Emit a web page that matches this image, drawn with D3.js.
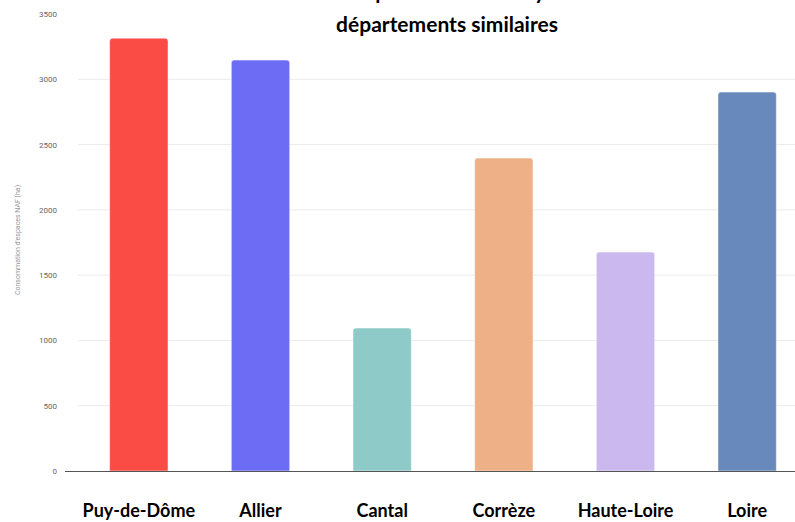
<!DOCTYPE html>
<html><head><meta charset="utf-8">
<script src="https://cdn.jsdelivr.net/npm/d3@7"></script>
<style>body{margin:0;background:#fff;overflow:hidden}svg{display:block}</style>
</head><body>
<svg id="c" width="795" height="522"></svg>
<script>
const categories = ["Puy-de-Dôme","Allier","Cantal","Corrèze","Haute-Loire","Loire"];
const values = [3315, 3147, 1095, 2397, 1677, 2902];
const colors = ["#FA4B44","#6C6CF4","#8ECBC8","#EEB087","#CAB8EE","#6889BB"];
const yTicks = [0,500,1000,1500,2000,2500,3000,3500];
const titleLines = ["Consommation d'espaces NAF du Puy-de-Dôme et des","départements similaires"];
const yTitle = "Consommation d'espaces NAF (ha)";

const svg = d3.select("#c");
const x = d3.scaleBand().domain(categories).range([78, 808]).paddingInner(0.52).paddingOuter(0.26);
const y = d3.scaleLinear().domain([0, 3500]).range([471, 14]);

// gridlines
svg.append("g").selectAll("line").data(yTicks.filter(d=>d>0 && d<3500)).join("line")
  .attr("x1", 78).attr("x2", 808).attr("y1", d=>y(d)).attr("y2", d=>y(d))
  .attr("stroke", "#ebebeb").attr("stroke-width", 1);

// y axis labels
const yAxis = d3.axisLeft(y).tickValues(yTicks).tickFormat(d3.format("d")).tickSize(0).tickPadding(0);
const ga = svg.append("g").attr("transform","translate(57,0)").call(yAxis);
ga.select(".domain").remove();
ga.selectAll("text").attr("font-family","Roboto, sans-serif").attr("font-size",8).attr("fill","#666");

// bars
svg.append("g").selectAll("path").data(categories).join("path")
  .attr("d", (d,i) => {
    const x0 = x(d), w = x.bandwidth(), y0 = y(values[i]), h = y(0) - y0, r = 3;
    return `M${x0},${y0+h}V${y0+r}Q${x0},${y0} ${x0+r},${y0}H${x0+w-r}Q${x0+w},${y0} ${x0+w},${y0+r}V${y0+h}Z`;
  })
  .attr("fill", (d,i)=>colors[i])
  .attr("stroke", "rgba(255,255,255,0.5)").attr("stroke-width", 1);

// x axis baseline
svg.append("line").attr("x1",65).attr("x2",808).attr("y1",y(0)+0.5).attr("y2",y(0)+0.5)
  .attr("stroke","#555").attr("stroke-width",1.2);

// x labels
const xAxis = d3.axisBottom(x).tickSize(0).tickPadding(0);
const gx = svg.append("g").attr("transform",`translate(0,${y(0)})`).call(xAxis);
gx.select(".domain").remove();
gx.selectAll("text").attr("y", 46).attr("dy", 0)
  .attr("font-family","Lato, sans-serif").attr("font-weight","bold").attr("font-size",18).attr("fill","#000");

// y title
svg.append("text").attr("transform","translate(20,240) rotate(-90)")
  .attr("text-anchor","middle").attr("font-family","Roboto, sans-serif").attr("font-size",7).attr("fill","#999")
  .text(yTitle);

// title (first line runs off the top edge, as in the reference)
svg.append("g").selectAll("text").data(titleLines).join("text")
  .attr("x", 447).attr("y", (d,i)=> -1 + i*33)
  .attr("text-anchor","middle").attr("font-family","Lato, sans-serif").attr("font-weight","bold")
  .attr("font-size",21).attr("fill","#000").text(d=>d);
</script>
</body></html>
